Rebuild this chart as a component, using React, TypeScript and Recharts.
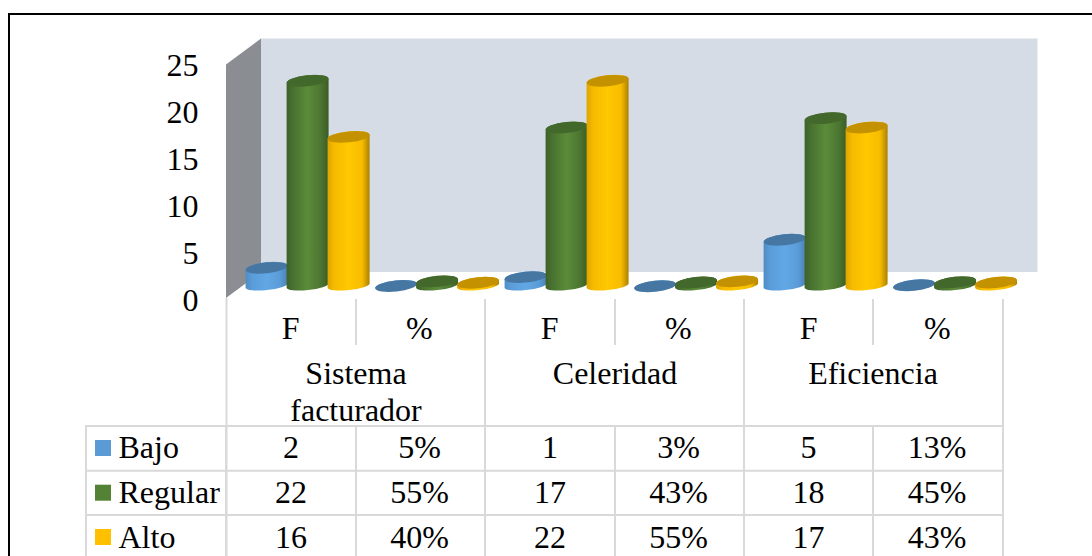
import React from "react";
import { ComposedChart, Bar, Line, XAxis, YAxis } from "recharts";

const columnLabels = ["F", "%", "F", "%", "F", "%"];
const groupLabels = [["Sistema", "facturador"], ["Celeridad"], ["Eficiencia"]];
const bajo = [2, 0.05, 1, 0.03, 5, 0.13];
const regular = [22, 0.55, 17, 0.43, 18, 0.45];
const alto = [16, 0.4, 22, 0.55, 17, 0.43];
const yTicks = [0, 5, 10, 15, 20, 25];

const rows = [
  { name: "Bajo", key: "bajo", values: bajo, color: "#5b9bd5", top: "#4677a3", grad: "gBajo" },
  { name: "Regular", key: "regular", values: regular, color: "#548235", top: "#43682b", grad: "gRegular" },
  { name: "Alto", key: "alto", values: alto, color: "#ffc000", top: "#c49200", grad: "gAlto" },
];

const data = columnLabels.map((label, i) => ({ label, bajo: bajo[i], regular: regular[i], alto: alto[i] }));

const FONT = "'Liberation Serif', 'Times New Roman', serif";
const FS = 32;
const PLOT_LEFT = 243.5;
const PLOT_WIDTH = 777;
const PLOT_TOP = 65;
const PLOT_BOTTOM = 300;
const CELL_SHIFT = 17.5;

const colX = [226, 356, 485, 615, 744, 873, 1003];
const rowY = [426, 470.7, 515, 556];
const GRID = "#d9d9d9";

const fmt = (v: number, i: number) => (i % 2 === 1 ? `${Math.round(v * 100)}%` : `${v}`);

const Cylinder = (grad: string, topColor: string) => (p: any) => {
  const w = p.width + 1;
  const x = p.x - 0.5;
  const yt = p.y;
  const yb = p.y + p.height;
  const rx = w / 2;
  const ry = 5.5;
  const rot = -6;
  const t = rx * Math.sin((6 * Math.PI) / 180);
  const d = `M${x},${yt + t} L${x},${yb + t - 1} A${rx},${ry - 1} ${rot} 0 0 ${x + w},${yb - t - 1} L${x + w},${yt - t} A${rx},${ry} ${rot} 0 0 ${x},${yt + t} Z`;
  return (
    <g>
      <path d={d} fill={`url(#${grad})`} />
      <ellipse cx={x + rx} cy={yt} rx={rx} ry={ry} fill={topColor} transform={`rotate(${rot} ${x + rx} ${yt})`} />
    </g>
  );
};

const XTick = (p: any) => (
  <text x={p.x - CELL_SHIFT - (p.payload.value === "%" ? 1 : 0)} y={339} textAnchor="middle" fontFamily={FONT} fontSize={FS} fill="#000">
    {p.payload.value}
  </text>
);

const YTick = (p: any) => (
  <text x={198.5} y={p.y + 11} textAnchor="end" fontFamily={FONT} fontSize={FS} fill="#000">
    {p.payload.value}
  </text>
);

const stops = (edgeL: string, soft: string, mid: string, softR: string, edgeR: string) => (
  <>
    <stop offset="0" stopColor={edgeL} />
    <stop offset="0.15" stopColor={soft} />
    <stop offset="0.5" stopColor={mid} />
    <stop offset="0.82" stopColor={softR} />
    <stop offset="1" stopColor={edgeR} />
  </>
);

export default function App() {
  return (
    <div style={{ position: "absolute", left: 0, top: 0, width: 1092, height: 556, overflow: "hidden", background: "#fff" }}>
      <svg width={1092} height={556} style={{ position: "absolute", left: 0, top: 0 }}>
        <defs>
          <linearGradient id="gBajo" x1="0" x2="1" y1="0" y2="0">{stops("#4f8cc4", "#5a9cd8", "#62a8e6", "#5a9cd8", "#4a82b6")}</linearGradient>
          <linearGradient id="gRegular" x1="0" x2="1" y1="0" y2="0">{stops("#3e6127", "#487130", "#5b8c39", "#4b7531", "#3b5c25")}</linearGradient>
          <linearGradient id="gAlto" x1="0" x2="1" y1="0" y2="0">{stops("#dba400", "#f7ba00", "#ffc800", "#f7bc00", "#ab8100")}</linearGradient>
        </defs>
        <rect x={9} y={14} width={1083} height={542} fill="#fff" />
        <line x1={8} y1={14} x2={1092} y2={14} stroke="#000" strokeWidth={2} />
        <line x1={9} y1={13} x2={9} y2={556} stroke="#000" strokeWidth={2} />
        <polygon points="226,64.5 261,38.5 261,272 226,298" fill="#8a8d91" />
        <rect x={261} y={38.5} width={776.5} height={233.5} fill="#d6dce5" />
        {/* table grid */}
        <line x1={226.5} y1={298} x2={226.5} y2={556} stroke={GRID} strokeWidth={2} />
        {colX.slice(1).map((x, i) => (
          <line key={x} x1={x} y1={299} x2={x} y2={i % 2 === 0 ? 345 : 426} stroke={GRID} strokeWidth={2} />
        ))}
        {colX.map((x) => (
          <line key={`b${x}`} x1={x} y1={426} x2={x} y2={556} stroke={GRID} strokeWidth={2} />
        ))}
        <line x1={86} y1={426} x2={86} y2={556} stroke={GRID} strokeWidth={2} />
        {rowY.slice(0, 3).map((y) => (
          <line key={y} x1={85} y1={y} x2={1004} y2={y} stroke={GRID} strokeWidth={2} />
        ))}
        {/* group labels */}
        {groupLabels.map((lines, g) =>
          lines.map((ln, l) => (
            <text key={ln} x={colX[g * 2 + 1]} y={384 + l * 36.5} textAnchor="middle" fontFamily={FONT} fontSize={FS} fill="#000">
              {ln}
            </text>
          ))
        )}
        {/* rows */}
        {rows.map((r, ri) => (
          <g key={r.name}>
            <rect x={95} y={rowY[ri] + 14} width={16} height={16} fill={r.color} />
            <text x={118.5} y={458 + ri * 44.8} fontFamily={FONT} fontSize={FS} fill="#000">{r.name}</text>
            {r.values.map((v, i) => (
              <text key={i} x={(colX[i] + colX[i + 1]) / 2 - (i % 2 === 1 ? 1 : 0)} y={458 + ri * 44.8} textAnchor="middle" fontFamily={FONT} fontSize={FS} fill="#000">
                {fmt(v, i)}
              </text>
            ))}
          </g>
        ))}
      </svg>
      <div style={{ position: "absolute", left: 0, top: 0 }}>
        <ComposedChart
          width={1092}
          height={556}
          data={data}
          barGap={0}
          barCategoryGap="2%"
          margin={{ top: PLOT_TOP, left: 0, right: 1092 - PLOT_LEFT - PLOT_WIDTH, bottom: 0 }}
        >
          <XAxis dataKey="label" height={556 - PLOT_BOTTOM} axisLine={false} tickLine={false} tick={XTick} interval={0} />
          <YAxis
            yAxisId="shown"
            width={PLOT_LEFT}
            domain={[0, 25]}
            ticks={yTicks}
            axisLine={false}
            tickLine={false}
            tick={YTick}
          />
          <YAxis yAxisId="bars" hide domain={[-1.444, 23.69]} allowDataOverflow />
          <Line yAxisId="shown" dataKey="regular" stroke="none" dot={false} legendType="none" isAnimationActive={false} />
          {rows.map((r) => (
            <Bar key={r.key} yAxisId="bars" dataKey={r.key} fill={r.color} isAnimationActive={false} shape={Cylinder(r.grad, r.top)} />
          ))}
        </ComposedChart>
      </div>
    </div>
  );
}
